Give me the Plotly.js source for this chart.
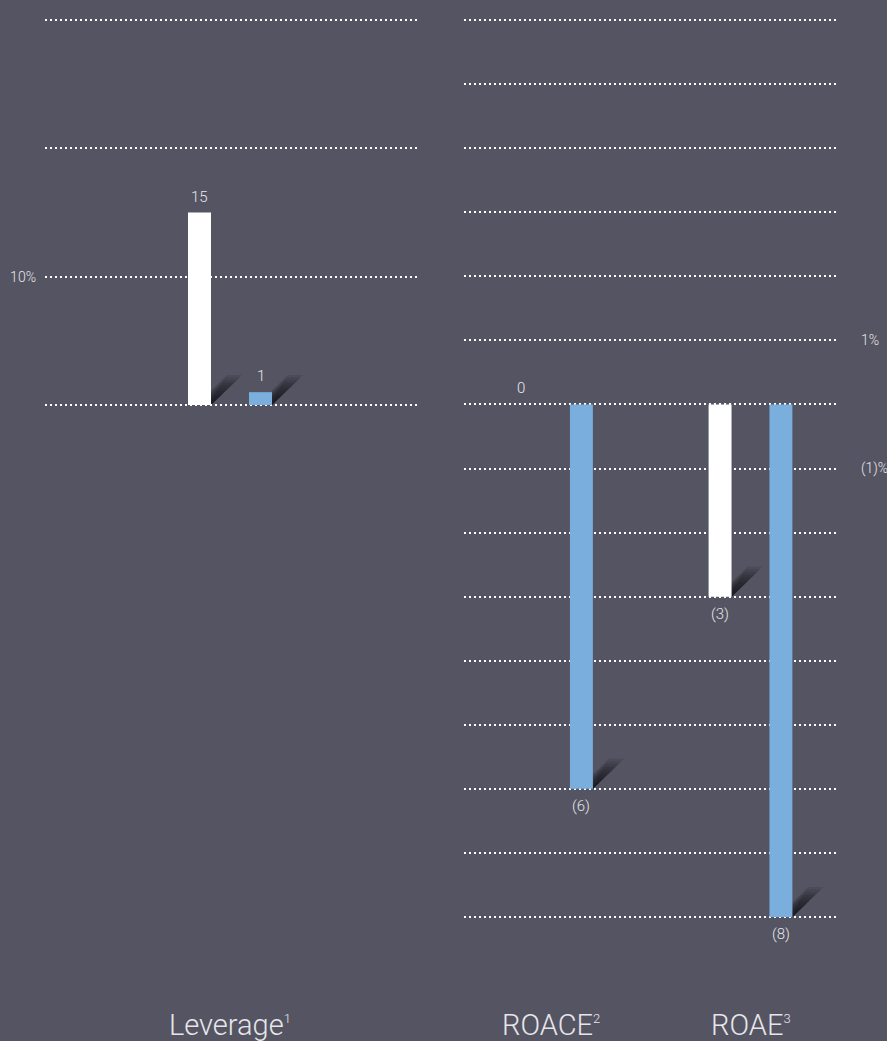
<!DOCTYPE html>
<html>
<head>
<meta charset="utf-8">
<script src="https://cdn.plot.ly/plotly-3.0.1.min.js"></script>
<style>
  html, body { margin: 0; padding: 0; background: #555462; }
  #chart { width: 887px; height: 1041px; }
</style>
</head>
<body>
<div id="chart"></div>
<script>
// Leverage panel
const leftCategories = ['Leverage'];
const leftLabels = ['Leverage<sup><span style="font-size:13px">1</span></sup>'];
const leftWhite = [15];
const leftBlue = [1];
const leftRange = [0, 30];
const leftGridStep = 10;
const leftTickVals = [10];
const leftTickText = ['10%'];

// Returns panel
const rightCategories = ['ROACE', 'ROAE'];
const rightLabels = ['ROACE<sup><span style="font-size:13px">2</span></sup>',
                     'ROAE<sup><span style="font-size:13px">3</span></sup>'];
const rightWhite = [0, -3];
const rightBlue = [-6, -8];
const rightRange = [-8, 6];
const rightGridStep = 1;
const rightTickVals = [1, -1];
const rightTickText = ['1%', '(1)%'];

const W = 887, H = 1041;
const px = x => x / W;
const py = y => 1 - y / H;

const BG = '#555462';
const WHITE = '#ffffff';
const BLUE = '#79aedd';
const TEXT = '#e6e6ea';
const FONT = 'Roboto, "Liberation Sans", Arial, sans-serif';

const BARGAP = 0.39;
const BARGROUPGAP = 0.623;
const slot = (1 - BARGAP) / 2;
const barW = slot * (1 - BARGROUPGAP);

const fmt = v => v < 0 ? '(' + Math.abs(v) + ')' : String(v);

// vertical axis placed between pixel rows top/bottom, padded so that the
// outermost dotted lines are not dropped at the plot edges
function valueAxis(range, top, bottom, step, tickvals, ticktext, extra) {
  const pad = 3;
  const k = (bottom - top) / (range[1] - range[0]);
  const grid = { showgrid: true, gridcolor: '#ffffff', gridwidth: 2, griddash: '2px,3px' };
  return Object.assign({
    domain: [py(bottom + pad), py(top - pad)],
    range: [range[0] - pad / k, range[1] + pad / k],
    zeroline: false, showline: false, ticks: '', fixedrange: true,
    tickmode: 'array', tickvals: tickvals, ticktext: ticktext,
    tickfont: { family: FONT, size: 14, color: TEXT, weight: 300 },
    minor: Object.assign({ tickmode: 'linear', tick0: 0, dtick: step, ticks: '' }, grid)
  }, grid, extra);
}

function barTrace(cats, vals, color, xa, ya) {
  return {
    type: 'bar', x: cats, y: vals, xaxis: xa, yaxis: ya,
    marker: { color: color, line: { width: 0 } },
    hoverinfo: 'skip', showlegend: false
  };
}

const data = [
  barTrace(leftCategories, leftWhite, WHITE, 'x', 'y'),
  barTrace(leftCategories, leftBlue, BLUE, 'x', 'y'),
  barTrace(rightCategories, rightWhite, WHITE, 'x2', 'y2'),
  barTrace(rightCategories, rightBlue, BLUE, 'x2', 'y2')
];

const annotations = [];
const shapes = [];

// value labels and soft drop shadows for each bar
function decorate(vals, side, xref, yref) {
  vals.forEach((v, i) => {
    const xc = i + side * slot / 2;
    annotations.push({
      xref: xref, yref: yref, x: xc, y: v,
      text: fmt(v), showarrow: false,
      yanchor: 'middle', yshift: v >= 0 ? 16 : -17,
      font: { family: FONT, size: 15, color: TEXT, weight: 300 }
    });
    if (v === 0) return;
    const edge = xc + barW / 2;
    const base = Math.min(0, v);
    for (let j = 0; j < 10; j++) {
      const s = 1 - j * 0.09;
      const a = n => (n * s).toFixed(2);
      shapes.push({
        type: 'path', xref: xref, yref: yref,
        xsizemode: 'pixel', ysizemode: 'pixel',
        xanchor: edge, yanchor: base,
        path: 'M0,0 L' + a(31) + ',' + a(30) + ' L' + a(16) + ',' + a(30) + ' L0,' + a(15) + ' Z',
        fillcolor: 'rgba(14,14,22,0.13)', line: { width: 0 }, layer: 'below'
      });
    }
  });
}
decorate(leftWhite, -1, 'x', 'y');
decorate(leftBlue, 1, 'x', 'y');
decorate(rightWhite, -1, 'x2', 'y2');
decorate(rightBlue, 1, 'x2', 'y2');

// category names under the panels
const catFont = { family: FONT, size: 29, color: TEXT, weight: 300 };
leftLabels.forEach((t, i) => annotations.push({
  xref: 'x', yref: 'paper', x: i, y: py(1025), text: t, showarrow: false,
  yanchor: 'middle', font: catFont
}));
rightLabels.forEach((t, i) => annotations.push({
  xref: 'x2', yref: 'paper', x: i, y: py(1025), text: t, showarrow: false,
  yanchor: 'middle', font: catFont
}));

const layout = {
  width: W, height: H,
  margin: { l: 0, r: 0, t: 0, b: 0, pad: 0 },
  paper_bgcolor: BG, plot_bgcolor: BG,
  barmode: 'group', bargap: BARGAP, bargroupgap: BARGROUPGAP,
  font: { family: FONT, color: TEXT },
  xaxis: {
    domain: [px(45), px(418)], type: 'category', range: [-0.925, 0.94],
    showgrid: false, zeroline: false, showticklabels: false, ticks: '', fixedrange: true
  },
  yaxis: valueAxis(leftRange, 20, 405, leftGridStep, leftTickVals, leftTickText,
    { anchor: 'x', ticklabelstandoff: 8 }),
  xaxis2: {
    domain: [px(464), px(838)], type: 'category', range: [-0.436, 1.4386], anchor: 'y2',
    showgrid: false, zeroline: false, showticklabels: false, ticks: '', fixedrange: true
  },
  yaxis2: valueAxis(rightRange, 20, 917, rightGridStep, rightTickVals, rightTickText,
    { anchor: 'x2', side: 'right', ticklabelstandoff: 22 }),
  annotations: annotations,
  shapes: shapes
};

Plotly.newPlot('chart', data, layout, { staticPlot: true, displayModeBar: false });
</script>
</body>
</html>
